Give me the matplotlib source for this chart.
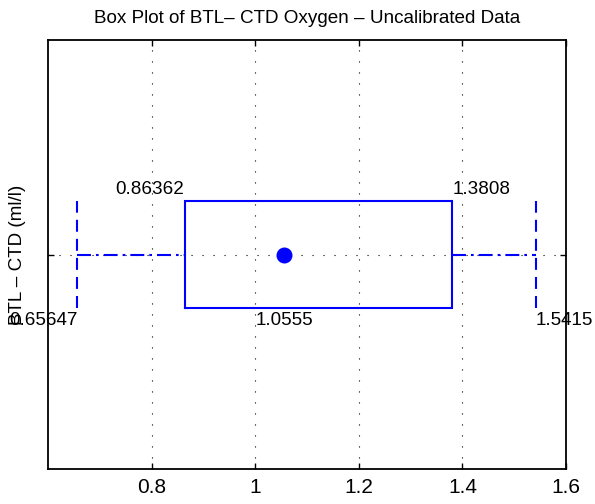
import matplotlib
matplotlib.use('Agg')
import matplotlib.pyplot as plt

plt.rcParams['font.family'] = ['Liberation Sans', 'DejaVu Sans']

# box plot statistics (ml/l)
lower_whisker = 0.65647
q1 = 0.86362
median = 1.0555
q3 = 1.3808
upper_whisker = 1.5415
xticks = [0.8, 1.0, 1.2, 1.4, 1.6]
xticklabels = ['0.8', '1', '1.2', '1.4', '1.6']

yc = 1.0      # centre line of the box
half = 0.125  # half height of the box
blue = '#0000ff'
fs = 13.6

fig = plt.figure(figsize=(5.95, 5.04), dpi=100)
ax = fig.add_axes([0.0807, 0.0685, 0.8706, 0.852])

# box
ax.plot([q1, q3, q3, q1, q1], [yc - half, yc - half, yc + half, yc + half, yc - half],
        color=blue, lw=1.5, solid_joinstyle='miter')
# whiskers
ax.plot([lower_whisker, q1], [yc, yc], color=blue, lw=1.5, linestyle=(0, (6.7, 2.4, 1.3, 2.4)))
ax.plot([q3, upper_whisker], [yc, yc], color=blue, lw=1.5, linestyle=(0, (6.7, 2.4, 1.3, 2.4)))
# whisker caps
for xw in (lower_whisker, upper_whisker):
    ax.plot([xw, xw], [yc - half, yc + half], color=blue, lw=1.5, linestyle=(0, (5.75, 3.4)))
# median marker
ax.plot([median], [yc], 'o', color=blue, markersize=10.5)

# value labels
ax.text(q1, yc + half + 0.008, '%.5g' % q1, ha='right', va='bottom', fontsize=fs)
ax.text(q3, yc + half + 0.008, '%.5g' % q3, ha='left', va='bottom', fontsize=fs)
ax.text(median, yc - half - 0.008, '%.5g' % median, ha='center', va='top', fontsize=fs)
ax.text(lower_whisker, yc - half - 0.008, '%.5g' % lower_whisker, ha='right', va='top',
        fontsize=fs, clip_on=False)
ax.text(upper_whisker, yc - half - 0.008, '%.5g' % upper_whisker, ha='left', va='top',
        fontsize=fs, clip_on=False)

ax.set_xlim(0.6, 1.6)
ax.set_ylim(0.5, 1.5)
ax.set_xticks(xticks)
ax.set_xticklabels(xticklabels)
ax.set_yticks([yc])
ax.set_yticklabels([''])
ax.tick_params(direction='in', length=4, width=1, labelsize=15, pad=6,
               top=True, right=True)
ax.grid(True, color='black', linestyle=(0, (1, 8.9)), lw=0.8)
for s in ax.spines.values():
    s.set_linewidth(1.3)

ax.set_title('Box Plot of BTL\u2013 CTD Oxygen \u2013 Uncalibrated Data', fontsize=fs, pad=12)
ax.set_ylabel('BTL \u2013 CTD (ml/l)', fontsize=fs)
ax.yaxis.set_label_coords(-0.042, 0.5)

fig.savefig('out.png', dpi=100)
